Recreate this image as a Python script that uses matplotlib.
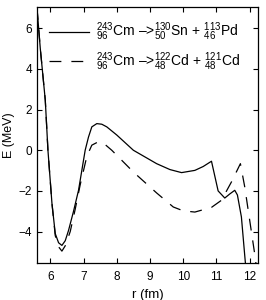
import numpy as np
import matplotlib
matplotlib.use("Agg")
import matplotlib.pyplot as plt

plt.rcParams["font.family"] = ["Liberation Sans", "DejaVu Sans"]
plt.rcParams["mathtext.fontset"] = "custom"
plt.rcParams["mathtext.rm"] = "Liberation Sans"
plt.rcParams["mathtext.it"] = "Liberation Sans"

# Sn + Pd channel (solid)
r_sn = [5.6, 5.7, 5.85, 5.93, 6.05, 6.15, 6.25, 6.35, 6.45, 6.55, 6.7, 6.85, 7.05,
        7.15, 7.25, 7.4, 7.55, 7.7, 8.0, 8.5, 9.2, 9.6, 9.95, 10.35, 10.6, 10.85,
        11.05, 11.25, 11.4, 11.55, 11.63, 11.75, 11.85, 11.95]
e_sn = [7.0, 5.0, 2.46, 0.0, -2.6, -4.1, -4.55, -4.68, -4.45, -3.94, -3.0, -1.97, 0.0,
        0.65, 1.15, 1.31, 1.28, 1.15, 0.75, 0.0, -0.66, -0.95, -1.1, -0.99, -0.8, -0.54,
        -2.0, -2.35, -2.15, -1.97, -2.2, -3.28, -5.17, -7.0]

# Cd + Cd channel (dashed)
r_cd = [5.6, 5.7, 5.85, 5.93, 6.05, 6.15, 6.25, 6.35, 6.45, 6.6, 6.75, 6.9, 7.1,
        7.25, 7.45, 7.6, 7.85, 8.5, 9.2, 9.7, 10.0, 10.35, 10.85, 11.15, 11.45, 11.72,
        11.85, 12.0, 12.15, 12.3]
e_cd = [7.0, 5.0, 2.46, 0.0, -2.6, -4.2, -4.75, -4.96, -4.7, -4.0, -2.9, -1.7, -0.3,
        0.25, 0.42, 0.35, 0.0, -1.07, -2.1, -2.79, -2.98, -3.04, -2.81, -2.46, -1.56, -0.66,
        -1.8, -3.45, -5.1, -7.0]

label_sn = r"$^{243}_{96}$Cm –>$^{130}_{50}$Sn + $^{113}_{46}$Pd"
label_cd = r"$^{243}_{96}$Cm –>$^{122}_{48}$Cd + $^{121}_{48}$Cd"

fig = plt.figure(figsize=(2.66, 3.0), dpi=100)
ax = fig.add_axes([0.139, 0.123, 0.831, 0.854])

ax.plot(r_sn, e_sn, color="black", lw=0.9, label=label_sn)
ax.plot(r_cd, e_cd, color="black", lw=0.9, dashes=(9.5, 8), label=label_cd)

ax.set_xlim(5.6, 12.25)
ax.set_ylim(-5.55, 7.05)
ax.set_xticks(np.arange(6, 13, 1))
ax.set_yticks([-4, -2, 0, 2, 4, 6])
ax.tick_params(direction="in", top=True, right=True, labelsize=8.5, length=3.6,
               width=0.8)
ax.tick_params(axis="x", pad=6)
ax.tick_params(axis="y", pad=3.6)
for s in ax.spines.values():
    s.set_linewidth(0.9)

ax.set_xlabel("r (fm)", fontsize=9.5, labelpad=4)
ax.set_ylabel("E (MeV)", fontsize=9)
ax.yaxis.set_label_coords(-0.1, 0.5)

ax.legend(loc="upper right", bbox_to_anchor=(0.95, 0.973), frameon=False,
          fontsize=10, handlelength=2.9, handletextpad=0.5, labelspacing=0.52,
          borderaxespad=0.2, borderpad=0.3)

fig.savefig("out.png", dpi=100)
